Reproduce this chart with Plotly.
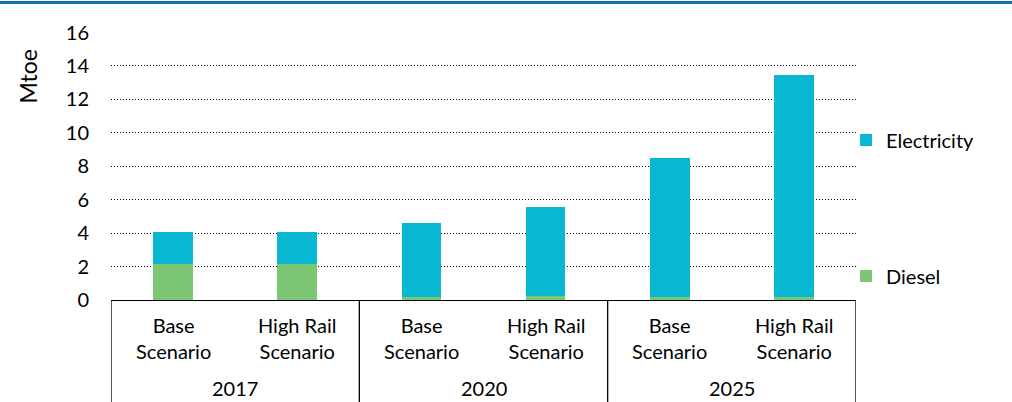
import plotly.graph_objects as go

years = ["2017", "2020", "2025"]
scenarios = ["Base<br>Scenario", "High Rail<br>Scenario"]
diesel = [2.15, 2.15, 0.18, 0.25, 0.15, 0.2]
electricity = [1.9, 1.9, 4.42, 5.3, 8.33, 13.23]
y_ticks = [0, 2, 4, 6, 8, 10, 12, 14, 16]

x = list(range(len(diesel)))
FONT = "Lato"
FS = 20
fig = go.Figure()
fig.add_bar(x=x, y=diesel, name="Diesel", marker=dict(color="#7DC673", line=dict(width=0)),
            legend="legend2")
fig.add_bar(x=x, y=electricity, name="Electricity", marker=dict(color="#08B8D2", line=dict(width=0)),
            legend="legend")

# scenario labels
for i in x:
    fig.add_annotation(x=i, y=-0.142, xref="x", yref="paper", text=scenarios[i % 2],
                       showarrow=False, font=dict(family=FONT, size=FS, color="#000"),
                       yanchor="middle")
# year labels
for g, yr in enumerate(years):
    fig.add_annotation(x=2 * g + 0.5, y=-0.328, xref="x", yref="paper", text=yr,
                       showarrow=False, font=dict(family=FONT, size=FS, color="#000"),
                       yanchor="middle")
# axis title
fig.add_annotation(x=-0.111, y=0.835, xref="paper", yref="paper", text="Mtoe", textangle=-90,
                   showarrow=False, font=dict(family=FONT, size=23, color="#000"),
                   xanchor="center", yanchor="middle")
# group dividers
for b in [-0.5, 1.5, 3.5, 5.5]:
    fig.add_shape(type="line", xref="x", yref="paper", x0=b, x1=b, y0=0, y1=-0.4,
                  line=dict(color="#000", width=1.3))
# top rule
fig.add_shape(type="line", xref="paper", yref="paper", x0=-0.2, x1=1.3, y0=1.110, y1=1.110,
              line=dict(color="#1170B8", width=3))

fig.update_layout(
    width=1012, height=402,
    margin=dict(l=111, r=156, t=32, b=102, autoexpand=False),
    paper_bgcolor="white", plot_bgcolor="white",
    barmode="stack", bargap=0.68,
    font=dict(family=FONT, size=FS, color="#000"),
    xaxis=dict(range=[-0.5, 5.5], showticklabels=False, showgrid=False, zeroline=False,
               showline=True, linecolor="#000", linewidth=1.3, ticks=""),
    yaxis=dict(range=[0, 16.03], tickvals=y_ticks, showgrid=True, gridcolor="#000", gridwidth=1,
               griddash="1px,2px", zeroline=False, showline=False, ticks="",
               ticklabelstandoff=21,
               tickfont=dict(family=FONT, size=FS)),
    legend=dict(x=0.9866, y=0.597, xanchor="left", yanchor="middle",
                yref="paper", font=dict(family=FONT, size=FS), bgcolor="rgba(0,0,0,0)",
                itemwidth=30),
    legend2=dict(x=0.9866, y=0.0896, xanchor="left", yanchor="middle",
                 yref="paper", font=dict(family=FONT, size=FS), bgcolor="rgba(0,0,0,0)",
                 itemwidth=30),
    showlegend=True,
)

fig.write_html("out.html", config={"displayModeBar": False},
               post_script="document.body.style.margin='0';")
